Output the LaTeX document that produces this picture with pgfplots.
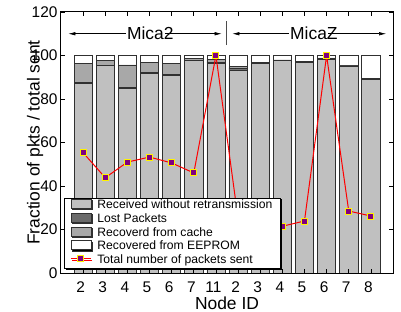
\documentclass[border=0pt]{standalone}
\usepackage{pgfplots}
\pgfplotsset{compat=1.18}
\usepackage{fontspec}
\setmainfont{Liberation Sans}
\usetikzlibrary{arrows.meta,shadows}
\definecolor{cRecv}{HTML}{C0C0C0}
\definecolor{cLost}{HTML}{6A6A6A}
\definecolor{cCache}{HTML}{A8A8A8}
\definecolor{cPurple}{HTML}{800080}
\definecolor{cEdge}{HTML}{303030}
\pgfplotsset{
  common/.style={scale only axis, width=332bp, height=261bp,
    xmin=0, xmax=15, ymin=0, ymax=120, at={(0,0)}, anchor=south west},
  legbar/.style={legend image code/.code={\draw[##1] (0bp,-2.6bp) rectangle (20bp,6.4bp);}},
  legline/.style={legend image code/.code={\draw[##1, mark indices={2}] plot coordinates {(0bp,1.9bp) (10bp,1.9bp) (20bp,1.9bp)};}},
}
\begin{document}
\begin{tikzpicture}
\path[use as bounding box] (-61bp,-39bp) rectangle (340bp,273bp);
\begin{axis}[common, hide axis, ybar stacked, bar width=0.82,
  every axis plot/.append style={draw=cEdge, line width=0.6bp}]
\addplot[fill=cRecv] coordinates {(1,87.2) (2,95.3) (3,84.8) (4,91.8) (5,91.0) (6,97.6) (7,96.5) (8,93.4) (9,96.4) (10,97.9) (11,97.0) (12,98.2) (13,95.2) (14,88.9)};
\addplot[fill=cLost] coordinates {(1,0.5) (2,0.2) (3,0.6) (4,0.3) (5,0.2) (6,0.3) (7,0.3) (8,0.8) (9,0.4) (10,0.1) (11,0.4) (12,0.1) (13,0.2) (14,0.5)};
\addplot[fill=cCache] coordinates {(1,8.8) (2,2.3) (3,10.3) (4,4.8) (5,5.0) (6,0.7) (7,1.4) (8,0.8) (9,0) (10,0) (11,0) (12,0.6) (13,0) (14,0)};
\addplot[fill=white] coordinates {(1,3.5) (2,2.2) (3,4.3) (4,3.1) (5,3.8) (6,1.4) (7,1.8) (8,5.0) (9,3.2) (10,2.0) (11,2.6) (12,1.1) (13,4.6) (14,10.6)};
\end{axis}
\begin{axis}[common,
  axis line style={line width=1bp},
  xtick={1,...,14}, xticklabels={2,3,4,5,6,7,11,2,3,4,5,6,7,8},
  ytick={0,20,...,120},
  tick align=inside, major tick length=4bp, tick style={black, line width=0.6bp},
  /pgf/number format/assume math mode=true,
  tick label style={font=\fontsize{15.5}{18}\selectfont},
  xticklabel style={anchor=base, yshift=-19.8bp, xshift=-2.5bp},
  xlabel={Node ID}, ylabel={Fraction of pkts / total sent},
  every axis x label/.style={at={(axis description cs:0.5,0)}, anchor=center, yshift=-30bp, font=\fontsize{17.5}{20}\selectfont},
  every axis y label/.style={at={(axis description cs:0,0.5)}, rotate=90, anchor=center, yshift=26bp, font=\fontsize{17.5}{20}\selectfont},
  legend style={at={(0,0)}, anchor=south west, xshift=3bp, yshift=4bp,
    draw=black, line width=0.8bp, fill=white,
    drop shadow={shadow xshift=1.2bp, shadow yshift=-1.2bp, fill=black, opacity=1},
    font=\fontsize{12.2}{13}\selectfont, inner xsep=6bp, inner ysep=1bp,
    nodes={inner ysep=1bp, inner xsep=2bp, text height=8.7bp, text depth=3bp},
    /tikz/every odd column/.append style={column sep=4bp}},
  legend cell align=left,
]
\addlegendimage{legbar, fill=cRecv, draw=cEdge, line width=0.6bp}
\addlegendimage{legbar, fill=cLost, draw=cEdge, line width=0.6bp}
\addlegendimage{legbar, fill=cCache, draw=cEdge, line width=0.6bp}
\addlegendimage{legbar, fill=white, draw=cEdge, line width=0.6bp}
\addplot[legline, red, line width=1bp, mark=square*, mark size=3bp,
  mark options={fill=cPurple, draw=yellow, line width=1bp, solid}]
  coordinates {(1,55.3) (2,43.8) (3,51.0) (4,53.3) (5,50.6) (6,46.0) (7,100) (8,25) (9,22) (10,21.5) (11,23.9) (12,100) (13,28.5) (14,26.2)};
\legend{Received without retransmission, Lost Packets, Recoverd from cache, Recovered from EEPROM, Total number of packets sent}
\draw[line width=0.6bp, {Latex[length=7bp,width=3.5bp]}-{Latex[length=7bp,width=3.5bp]}] (axis cs:0.33,110) -- (axis cs:7.26,110);
\draw[line width=0.6bp, {Latex[length=7bp,width=3.5bp]}-{Latex[length=7bp,width=3.5bp]}] (axis cs:7.74,110) -- (axis cs:14.69,110);
\draw[line width=0.8bp, black!70] (axis cs:7.49,104.8) -- (axis cs:7.49,116);
\node[anchor=west, fill=white, inner xsep=1bp, inner ysep=2bp, font=\fontsize{17.5}{20}\selectfont] at (axis cs:2.93,110) {\phantom{Mica}};
\node[anchor=west, inner xsep=1bp, inner ysep=2bp, font=\fontsize{17.5}{20}\selectfont] at (axis cs:2.93,110) {Mica2};
\node[anchor=west, fill=white, inner xsep=1bp, inner ysep=2bp, font=\fontsize{17.5}{20}\selectfont] at (axis cs:10.3,110) {\phantom{Mica}};
\node[anchor=west, inner xsep=1bp, inner ysep=2bp, font=\fontsize{17.5}{20}\selectfont] at (axis cs:10.3,110) {MicaZ};
\end{axis}
\end{tikzpicture}
\end{document}
